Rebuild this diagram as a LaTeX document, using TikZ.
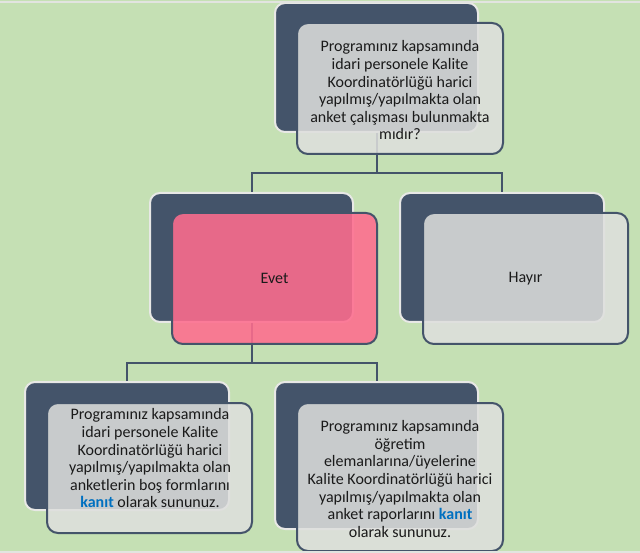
\documentclass[tikz,border=0pt]{standalone}
\usepackage{fontspec}
\setmainfont{Carlito}
\definecolor{bg}{HTML}{C5E0B4}
\definecolor{band}{HTML}{E2E4E0}
\definecolor{dark}{HTML}{44546A}
\definecolor{backedge}{HTML}{E8E8E6}
\definecolor{frontfill}{HTML}{DEDFDD}
\definecolor{pinkfill}{HTML}{FE6C8E}
\definecolor{txtc}{HTML}{1A1A1A}
\definecolor{kblue}{HTML}{0070C0}
\tikzset{
  backbox/.style={draw=backedge, line width=2pt, fill=dark, rounded corners=10pt, inner sep=0pt},
  frontbox/.style={draw=dark, line width=2pt, fill=frontfill, fill opacity=0.86, rounded corners=11pt, inner sep=0pt},
  pinkbox/.style={frontbox, fill=pinkfill, fill opacity=0.88},
  conn/.style={draw=dark, line width=2pt},
  txt/.style={text=txtc, align=center, inner sep=0pt, font=\fontsize{16}{17.6}\selectfont}
}
\newcommand{\kanitword}{\textcolor{kblue}{\textbf{kanıt}}}
\begin{document}
\begin{tikzpicture}[x=1pt,y=-1pt]
\useasboundingbox (0,0) rectangle (640,553);
\fill[bg] (0,0) rectangle (640,553);
% back boxes
\node[backbox, minimum width=203pt, minimum height=129pt] (b0) at (376.5,67.5) {};
\node[backbox, minimum width=203pt, minimum height=129pt] (b1) at (251.5,257.5) {};
\node[backbox, minimum width=204pt, minimum height=129pt] (b2) at (502,257.5) {};
\node[backbox, minimum width=204pt, minimum height=128pt] (b3) at (127,446) {};
\node[backbox, minimum width=203pt, minimum height=147pt] (b4) at (376.5,455.5) {};
% connectors
\coordinate (h1) at (0,173);
\coordinate (h2) at (0,363);
\draw[conn] (b0.south) -- (b0.south |- h1) -| (b1.north);
\draw[conn] (b0.south) -- (b0.south |- h1) -| (b2.north);
\draw[conn] (b1.south) -- (b1.south |- h2) -| (b3.north);
\draw[conn] (b1.south) -- (b1.south |- h2) -| (b4.north);
% front boxes
\node[frontbox, minimum width=206pt, minimum height=131pt] (f0) at (400,88.5) {};
\node[pinkbox, minimum width=205pt, minimum height=131pt] (f1) at (274.5,278.5) {};
\node[frontbox, minimum width=205pt, minimum height=131pt] (f2) at (525.5,278.5) {};
\node[frontbox, minimum width=205pt, minimum height=130pt] (f3) at (149.5,468) {};
\node[frontbox, minimum width=206pt, minimum height=148pt] (f4) at (400,477) {};
% texts
\node[txt] (t0) at (400,90.5) {Programınız kapsamında\\idari personele Kalite\\Koordinatörlüğü harici\\yapılmış/yapılmakta olan\\anket çalışması bulunmakta\\mıdır?};
\node[txt] (t1) at (f1.center) {Evet};
\node[txt] (t2) at (f2.center) {Hayır};
\node[txt] (t3) at (150,458.5) {Programınız kapsamında\\idari personele Kalite\\Koordinatörlüğü harici\\yapılmış/yapılmakta olan\\anketlerin boş formlarını\\\kanitword{} olarak sununuz.};
\node[txt] (t4) at (400,479) {Programınız kapsamında\\öğretim\\elemanlarına/üyelerine\\Kalite Koordinatörlüğü harici\\yapılmış/yapılmakta olan\\anket raporlarını \kanitword\\olarak sununuz.};
% thin light bands at top and bottom
\fill[band] (0,0.6) rectangle (640,3);
\fill[band] (0,550.5) rectangle (640,553);
\end{tikzpicture}
\end{document}
